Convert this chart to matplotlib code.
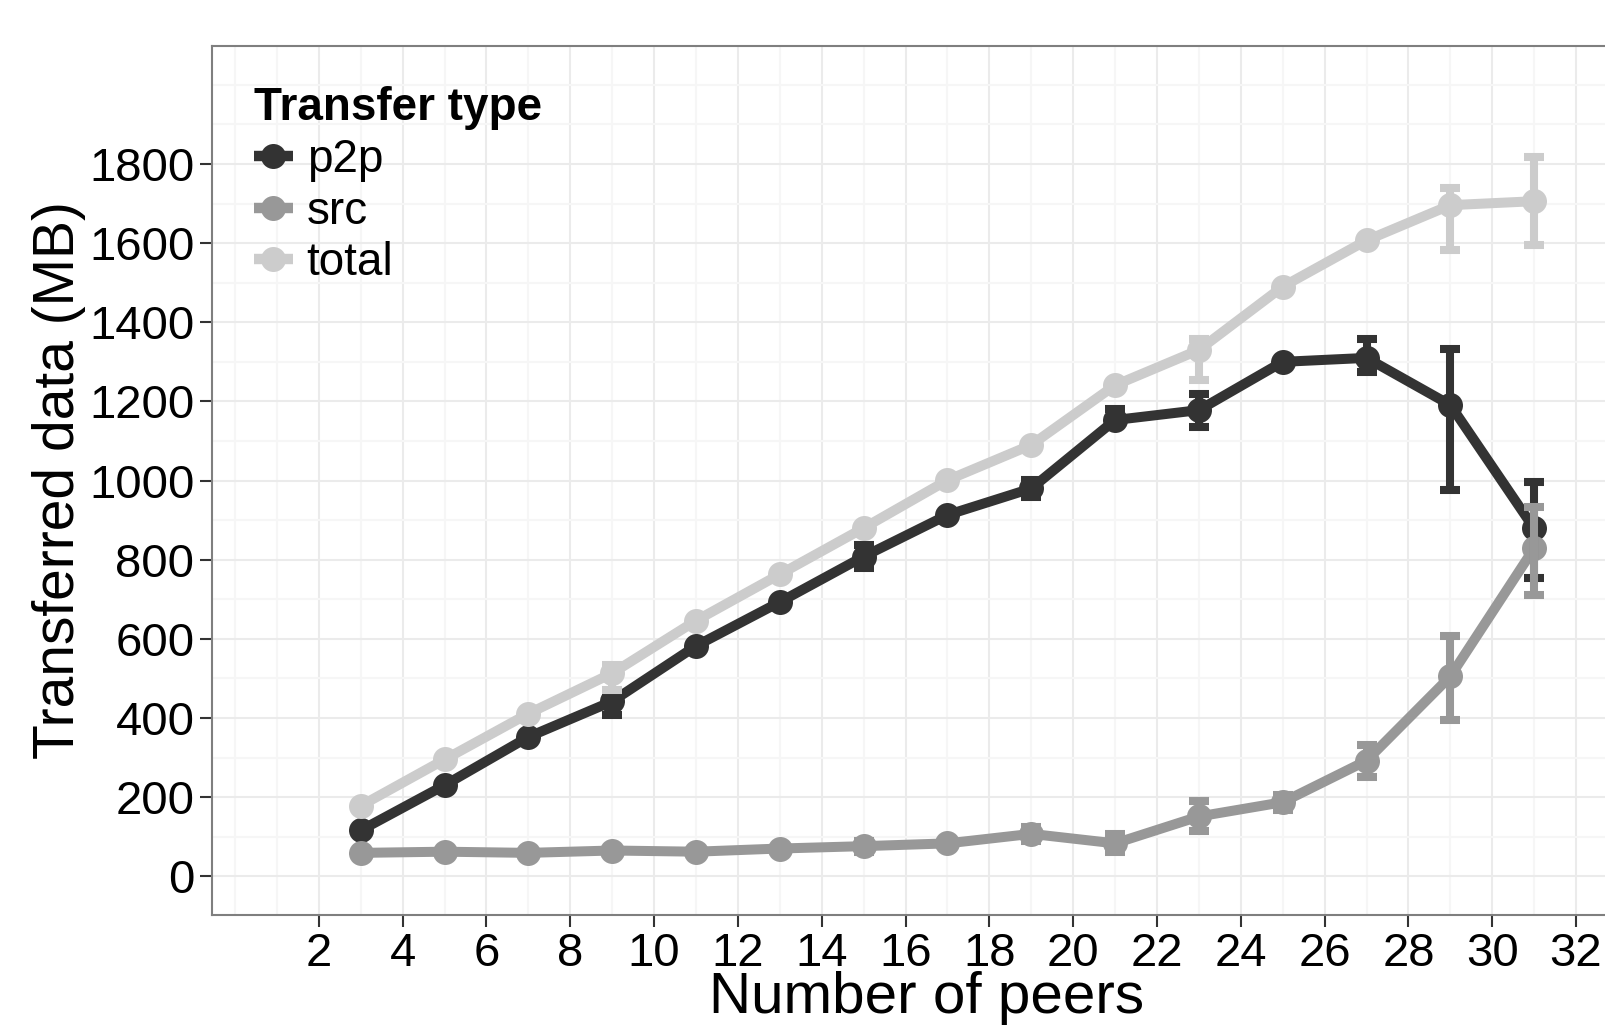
import numpy as np
import matplotlib.pyplot as plt
from matplotlib.lines import Line2D

plt.rcParams['font.family'] = ['Liberation Sans', 'DejaVu Sans']

# number of peers
peers = [3, 5, 7, 9, 11, 13, 15, 17, 19, 21, 23, 25, 27, 29, 31]

# mean transferred data (MB) and error bar ends
p2p = [116, 230, 352, 442, 582, 693, 808, 913, 980, 1153, 1178, 1300, 1310, 1191, 879]
p2p_lo = [111, 225, 347, 408, 577, 688, 780, 908, 958, 1145, 1136, 1295, 1275, 976, 753]
p2p_hi = [121, 235, 357, 462, 587, 698, 836, 918, 1002, 1180, 1220, 1305, 1357, 1332, 997]

src = [59, 62, 59, 65, 62, 70, 76, 83, 107, 83, 151, 187, 292, 505, 829]
src_lo = [55, 58, 55, 61, 58, 66, 62, 79, 90, 61, 115, 168, 252, 396, 711]
src_hi = [63, 66, 63, 69, 66, 74, 90, 87, 125, 106, 190, 206, 332, 606, 934]

total = [178, 295, 411, 513, 646, 763, 880, 1001, 1090, 1241, 1330, 1490, 1607, 1696, 1706]
total_lo = [173, 290, 406, 470, 641, 758, 875, 996, 1085, 1236, 1254, 1485, 1602, 1582, 1595]
total_hi = [183, 300, 416, 534, 651, 768, 885, 1006, 1095, 1246, 1359, 1495, 1612, 1740, 1818]

series = [
    ('p2p', p2p, p2p_lo, p2p_hi, '#333333'),
    ('src', src, src_lo, src_hi, '#989898'),
    ('total', total, total_lo, total_hi, '#CCCCCC'),
]

W, H = 1606, 1028
fig = plt.figure(figsize=(W / 100, H / 100), dpi=100)
ax = fig.add_axes([212 / W, 1 - 914.6 / H, (1641 - 212) / W, (914.6 - 46.1) / H])

# ggplot-ish bw theme
ax.set_xlim(-0.55, 33.55)
ax.set_ylim(-97, 2098)
ax.set_xticks(np.arange(2, 33, 2))
ax.set_xticks([0, 1] + list(range(3, 34, 2)), minor=True)
ax.set_yticks(np.arange(0, 1801, 200))
ax.set_yticks(list(range(100, 1800, 200)) + [1900, 2000], minor=True)
ax.grid(which='major', color='#EBEBEB', linewidth=1.5, zorder=0)
ax.grid(which='minor', color='#F6F6F6', linewidth=1.5, zorder=0)
ax.set_axisbelow(True)
for sp in ax.spines.values():
    sp.set_color('#7F7F7F')
    sp.set_linewidth(1.5)
ax.tick_params(which='major', length=8.6, width=1.5, color='#333333',
               labelsize=34, labelcolor='black', pad=4)
ax.tick_params(which='minor', length=0)

# lines, then points, then error bars (layer order as in ggplot)
for name, y, lo, hi, c in series:
    ax.plot(peers, y, color=c, linewidth=7.2, solid_capstyle='butt', zorder=2)
for name, y, lo, hi, c in series:
    ax.plot(peers, y, linestyle='none', marker='o', markersize=18,
            color=c, markeredgewidth=0, zorder=3)
for name, y, lo, hi, c in series:
    yerr = [np.array(y) - np.array(lo), np.array(hi) - np.array(y)]
    ax.errorbar(peers, y, yerr=yerr, fmt='none', ecolor=c, elinewidth=5.8,
                capsize=7.5, capthick=5.8, zorder=4)

ax.set_xlabel('Number of peers', fontsize=42, labelpad=-4)
ax.set_ylabel('Transferred data (MB)', fontsize=41, labelpad=2)

handles = [Line2D([], [], color=c, linewidth=7.5, marker='o', markersize=18,
                  markeredgewidth=0, solid_capstyle='butt')
           for _, _, _, _, c in series]
leg = ax.legend(handles, [s[0] for s in series], title='Transfer type',
                loc='upper left', bbox_to_anchor=(254 / W, 1 - 86 / H),
                bbox_transform=fig.transFigure, frameon=False, fontsize=33,
                title_fontproperties={'weight': 'bold', 'size': 33},
                handlelength=0.85, handletextpad=0.3, labelspacing=0.17,
                borderpad=0, borderaxespad=0, alignment='left')

plt.savefig('out.png', dpi=100)
